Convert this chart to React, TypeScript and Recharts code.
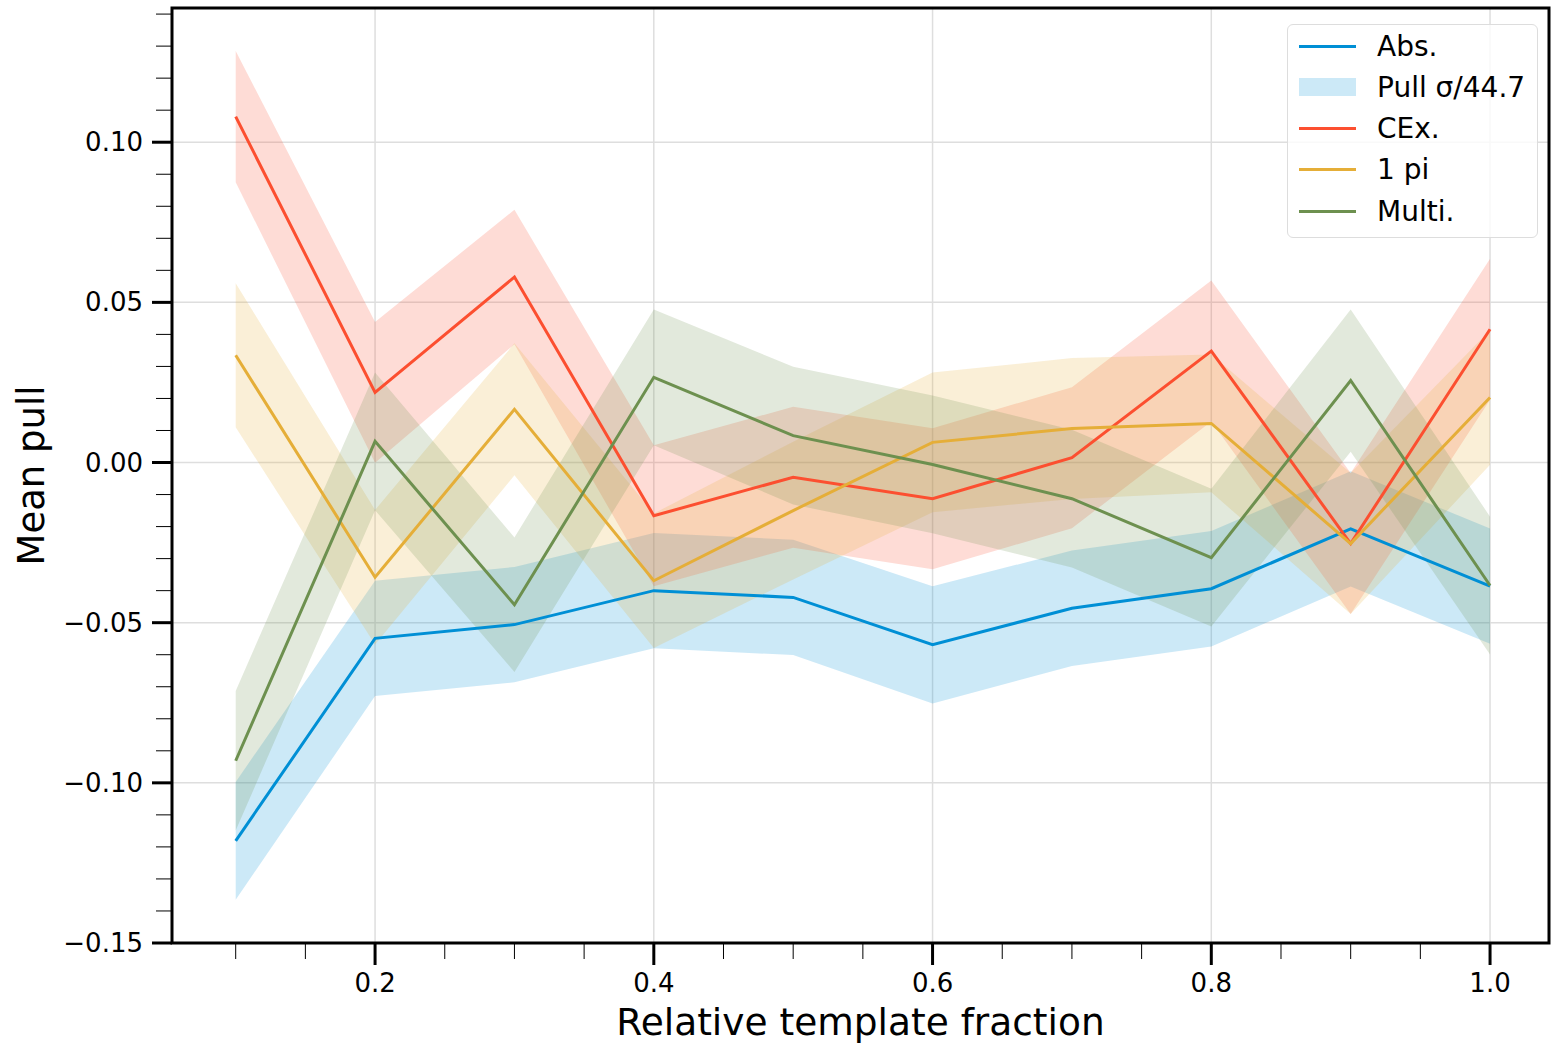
import React from "react";
import {
  ComposedChart, Area, Line, XAxis, YAxis, CartesianGrid, ReferenceArea, Legend,
} from "recharts";

const FONT = "'DejaVu Sans', sans-serif";

const fraction = [0.1, 0.2, 0.3, 0.4, 0.5, 0.6, 0.7, 0.8, 0.9, 1.0];

const absMean = [-0.1181, -0.0549, -0.0506, -0.040, -0.0421, -0.0569, -0.0455, -0.0394, -0.0207, -0.0386];
const absSigma = [0.0184, 0.018, 0.018, 0.018, 0.018, 0.0183, 0.018, 0.018, 0.018, 0.018];

const cexMean = [0.108, 0.0219, 0.0579, -0.0166, -0.0046, -0.0113, 0.0015, 0.0348, -0.0253, 0.0416];
const cexSigma = [0.0205, 0.022, 0.021, 0.022, 0.022, 0.022, 0.022, 0.022, 0.022, 0.022];

const onePiMean = [0.0335, -0.0358, 0.0166, -0.0369, -0.015, 0.0063, 0.0106, 0.0122, -0.0253, 0.0203];
const onePiSigma = [0.0225, 0.021, 0.0206, 0.021, 0.0215, 0.0218, 0.022, 0.0215, 0.022, 0.021];

const multiMean = [-0.0931, 0.0066, -0.0444, 0.0266, 0.0084, -0.0006, -0.0113, -0.0297, 0.0256, -0.0384];
const multiSigma = [0.0218, 0.0215, 0.021, 0.0212, 0.0215, 0.0215, 0.0215, 0.0215, 0.0222, 0.0215];

const xTicks = [0.1, 0.15, 0.2, 0.25, 0.3, 0.35, 0.4, 0.45, 0.5, 0.55, 0.6, 0.65, 0.7, 0.75, 0.8, 0.85, 0.9, 0.95, 1.0];
const xMajorTicks = [0.2, 0.4, 0.6, 0.8, 1.0];
const xMajorLabels = ["0.2", "0.4", "0.6", "0.8", "1.0"];

const yTicks = [
  -0.15, -0.14, -0.13, -0.12, -0.11, -0.1, -0.09, -0.08, -0.07, -0.06, -0.05, -0.04, -0.03, -0.02, -0.01,
  0, 0.01, 0.02, 0.03, 0.04, 0.05, 0.06, 0.07, 0.08, 0.09, 0.1, 0.11, 0.12, 0.13, 0.14,
];
const yMajorTicks = [-0.15, -0.1, -0.05, 0, 0.05, 0.1];
const yMajorLabels = ["\u22120.15", "\u22120.10", "\u22120.05", "0.00", "0.05", "0.10"];

const X_DOMAIN: [number, number] = [0.0543, 1.0423];
const Y_DOMAIN: [number, number] = [-0.15, 0.1419];

const series = [
  { key: "abs", name: "Abs.", color: "#008fd5", mean: absMean, sigma: absSigma },
  { key: "cex", name: "CEx.", color: "#fc4f30", mean: cexMean, sigma: cexSigma },
  { key: "onepi", name: "1 pi", color: "#e5ae38", mean: onePiMean, sigma: onePiSigma },
  { key: "multi", name: "Multi.", color: "#6d904f", mean: multiMean, sigma: multiSigma },
];

const data = fraction.map((f, i) => {
  const row: any = { fraction: f };
  series.forEach((s) => {
    row[s.key] = s.mean[i];
    row[s.key + "Band"] = [s.mean[i] - s.sigma[i], s.mean[i] + s.sigma[i]];
  });
  return row;
});

const findMajor = (list: number[], v: number) => list.findIndex((m) => Math.abs(m - v) < 1e-9);

const YTick = (props: any) => {
  const { x, y, payload } = props;
  const idx = findMajor(yMajorTicks, payload.value);
  const major = idx >= 0;
  const len = major ? 20 : 16;
  return (
    <g>
      <line x1={x - len} x2={x} y1={y} y2={y} stroke="#000" strokeWidth={major ? 3 : 1} />
      {major && (
        <text x={x - len - 9} y={y} textAnchor="end" dominantBaseline="central"
          fontSize={26} fontFamily={FONT} fill="#000">
          {yMajorLabels[idx]}
        </text>
      )}
    </g>
  );
};

const XTick = (props: any) => {
  const { x, y, payload } = props;
  const idx = findMajor(xMajorTicks, payload.value);
  const major = idx >= 0;
  const len = major ? 22 : 16;
  return (
    <g>
      <line x1={x} x2={x} y1={y} y2={y + len} stroke="#000" strokeWidth={major ? 3 : 1} />
      {major && (
        <text x={x} y={y + 49} textAnchor="middle" fontSize={26} fontFamily={FONT} fill="#000">
          {xMajorLabels[idx]}
        </text>
      )}
    </g>
  );
};

const legendRows = [
  { label: "Abs.", color: "#008fd5", patch: false },
  { label: "Pull \u03c3/44.7", color: "#008fd5", patch: true },
  { label: "CEx.", color: "#fc4f30", patch: false },
  { label: "1 pi", color: "#e5ae38", patch: false },
  { label: "Multi.", color: "#6d904f", patch: false },
];

const LegendBox = () => (
  <div style={{
    position: "relative", width: 251, height: 214, boxSizing: "border-box",
    border: "1px solid #dddddd", borderRadius: 6, background: "rgba(255,255,255,0.8)",
    fontFamily: FONT, fontSize: 28, color: "#000",
  }}>
    {legendRows.map((r, i) => (
      <div key={r.label} style={{
        position: "absolute", left: 0, top: 22 + i * 41.3 - 21, height: 40,
        display: "flex", alignItems: "center",
      }}>
        <div style={{
          marginLeft: 11, width: 57, height: r.patch ? 18 : 3,
          background: r.patch ? "rgba(0,143,213,0.2)" : r.color,
        }} />
        <span style={{ marginLeft: 21, whiteSpace: "nowrap" }}>{r.label}</span>
      </div>
    ))}
  </div>
);

export default function App() {
  return (
    <div style={{ position: "absolute", left: 0, top: 0, background: "#fff" }}>
      <ComposedChart width={1552} height={1044} data={data}
        margin={{ top: 8, right: 3, left: 0, bottom: 0 }}>
        <CartesianGrid horizontalValues={yMajorTicks} verticalValues={xMajorTicks}
          stroke="#dedede" strokeWidth={1.5} />
        <XAxis
          dataKey="fraction" type="number" domain={X_DOMAIN} ticks={xTicks} interval={0}
          allowDataOverflow height={101} axisLine={false} tickLine={false}
          tickSize={0} tickMargin={0} tick={<XTick />}
          label={(p: any) => {
            const vb = p.viewBox;
            return (
              <text x={vb.x + vb.width / 2} y={vb.y + 92} textAnchor="middle"
                fontSize={37.5} fontFamily={FONT} fill="#000">
                Relative template fraction
              </text>
            );
          }}
        />
        <YAxis
          type="number" domain={Y_DOMAIN} ticks={yTicks} interval={0} allowDataOverflow
          width={172} axisLine={false} tickLine={false} tickSize={0} tickMargin={0}
          tick={<YTick />}
          label={(p: any) => {
            const vb = p.viewBox;
            const cx = vb.x + 31;
            const cy = vb.y + vb.height / 2;
            return (
              <text x={cx} y={cy} textAnchor="middle" dominantBaseline="central"
                transform={`rotate(-90 ${cx} ${cy})`} fontSize={37} fontFamily={FONT} fill="#000">
                Mean pull
              </text>
            );
          }}
        />
        {series.map((s) => (
          <Area key={s.key + "Band"} dataKey={s.key + "Band"} type="linear" stroke="none"
            fill={s.color} fillOpacity={0.2} dot={false} activeDot={false}
            isAnimationActive={false} />
        ))}
        {series.map((s) => (
          <Line key={s.key} dataKey={s.key} type="linear" stroke={s.color} strokeWidth={3}
            dot={false} activeDot={false} isAnimationActive={false} />
        ))}
        <ReferenceArea x1={X_DOMAIN[0]} x2={X_DOMAIN[1]} y1={Y_DOMAIN[0]} y2={Y_DOMAIN[1]}
          fill="none" fillOpacity={0} stroke="#000" strokeWidth={3} ifOverflow="visible" />
        <Legend layout="vertical" align="center" verticalAlign="middle"
          wrapperStyle={{ position: "absolute", top: 24, left: 1287, width: 251, height: 214 }}
          content={() => <LegendBox />} />
      </ComposedChart>
    </div>
  );
}
